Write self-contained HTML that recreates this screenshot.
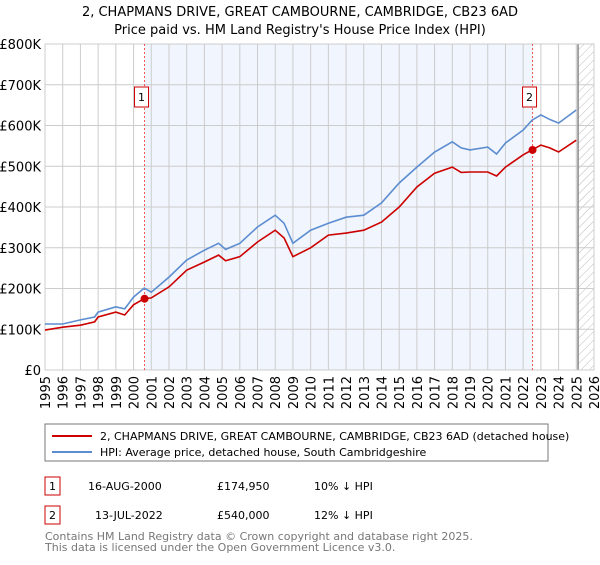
<!DOCTYPE html>
<html><head><meta charset="utf-8"><style>
body{margin:0;background:#fff;font-family:"Liberation Sans","DejaVu Sans",sans-serif;}
svg text{font-family:"DejaVu Sans","Liberation Sans",sans-serif;}
</style></head><body>
<svg id="c" width="600" height="560" xmlns="http://www.w3.org/2000/svg">
<defs><pattern id="hatch" width="6" height="6" patternUnits="userSpaceOnUse" patternTransform="rotate(45)"><line x1="0" y1="0" x2="0" y2="6" stroke="#bbb" stroke-width="1"/></pattern></defs>
<text x="300" y="16" text-anchor="middle" font-size="13">2, CHAPMANS DRIVE, GREAT CAMBOURNE, CAMBRIDGE, CB23 6AD</text>
<text x="300" y="34" text-anchor="middle" font-size="13">Price paid vs. HM Land Registry's House Price Index (HPI)</text>
<g id="plot"></g>
<rect x="45" y="424" width="503" height="37" fill="#fff" stroke="#777"/>
<line x1="52" y1="436" x2="92" y2="436" stroke="#cc0000" stroke-width="2"/>
<text x="100" y="440" font-size="11">2, CHAPMANS DRIVE, GREAT CAMBOURNE, CAMBRIDGE, CB23 6AD (detached house)</text>
<line x1="52" y1="452" x2="92" y2="452" stroke="#5b8dd0" stroke-width="2"/>
<text x="100" y="456" font-size="11">HPI: Average price, detached house, South Cambridgeshire</text>
<g font-size="11">
<rect x="45" y="477" width="15" height="18" fill="#fff" stroke="#cc0000"/><text x="52.5" y="490" text-anchor="middle">1</text>
<text x="88" y="490">16-AUG-2000</text><text x="217" y="490">£174,950</text><text x="314" y="490">10% ↓ HPI</text>
<rect x="45" y="506" width="15" height="18" fill="#fff" stroke="#cc0000"/><text x="52.5" y="519" text-anchor="middle">2</text>
<text x="95" y="519">13-JUL-2022</text><text x="217" y="519">£540,000</text><text x="314" y="519">12% ↓ HPI</text>
</g>
<text x="45" y="540" font-size="11" fill="#777">Contains HM Land Registry data © Crown copyright and database right 2025.</text>
<text x="45" y="551" font-size="11" fill="#777">This data is licensed under the Open Government Licence v3.0.</text>
</svg>
<script>
const hpiYears=[1995,1996,1997,1997.8,1998,1999,1999.5,2000,2000.6,2001,2002,2003,2004,2004.8,2005.2,2006,2007,2008,2008.5,2009,2010,2011,2012,2013,2014,2015,2016,2017,2018,2018.5,2019,2020,2020.5,2021,2022,2022.5,2023,2023.5,2024,2025];
const hpiValues=[113,113,123,130,142,155,150,179,201,191,228,270,294,311,296,311,351,380,360,311,343,360,375,380,410,459,498,535,560,545,540,547,530,557,589,613,626,615,606,638];
const ppYears=[1995,1996,1997,1997.8,1998,1999,1999.5,2000,2000.6,2001,2002,2003,2004,2004.8,2005.2,2006,2007,2008,2008.5,2009,2010,2011,2012,2013,2014,2015,2016,2017,2018,2018.5,2019,2020,2020.5,2021,2022,2022.5,2023,2023.5,2024,2025];
const ppValues=[98,105,110,118,130,142,135,160,175,177,204,245,265,282,268,278,314,343,324,278,300,331,336,343,363,400,449,483,498,485,486,486,476,498,528,540,552,545,535,564];
const saleYears=[2000.62,2022.53];
const saleValues=[174.95,540];
const saleLabels=["1","2"];
const yTicks=[0,100,200,300,400,500,600,700,800];
const yTickLabels=["£0","£100K","£200K","£300K","£400K","£500K","£600K","£700K","£800K"];
const xTicks=[1995,1996,1997,1998,1999,2000,2001,2002,2003,2004,2005,2006,2007,2008,2009,2010,2011,2012,2013,2014,2015,2016,2017,2018,2019,2020,2021,2022,2023,2024,2025,2026];
const X0=45,X1=594,Y0=370,Y1=44;
const xs=y=>X0+(y-1995)/(2026-1995)*(X1-X0);
const ys=v=>Y0-v/800*(Y0-Y1);
const NS="http://www.w3.org/2000/svg";
const g=document.getElementById('plot');
function mk(t,a){const e=document.createElementNS(NS,t);for(const k in a)e.setAttribute(k,a[k]);g.appendChild(e);return e;}
let e;
e=mk('rect',{x:X0,y:Y1,width:X1-X0,height:Y0-Y1,fill:'#fff'});


e=mk('rect',{x:xs(saleYears[0]),y:Y1,width:xs(saleYears[1])-xs(saleYears[0]),height:Y0-Y1,fill:'#eef2fc',opacity:0.8});


e=mk('rect',{x:xs(2025.1),y:Y1,width:X1-xs(2025.1),height:Y0-Y1,fill:'url(#hatch)'});


yTicks.forEach((t,i)=>{
 e=mk('line',{x1:X0,x2:X1,y1:ys(t),y2:ys(t),stroke:'#ccc'});
 
 
 e=mk('text',{x:X0-4,y:ys(t)+5,'text-anchor':'end','font-size':13});
 e.textContent=yTickLabels[i];
 
 
});
xTicks.forEach(t=>{
 e=mk('line',{x1:xs(t),x2:xs(t),y1:Y1,y2:Y0,stroke:'#ccc'});
 
 
 e=mk('text',{x:0,y:0,'font-size':13,'text-anchor':'end',transform:`translate(${xs(t)+5},${Y0+6}) rotate(-90)`});
 e.textContent=t;
 
 
});
e=mk('line',{x1:xs(2025.1),x2:xs(2025.1),y1:Y1,y2:Y0,stroke:'#888','stroke-width':1.5});


e=mk('rect',{x:X0,y:Y1,width:X1-X0,height:Y0-Y1,fill:'none',stroke:'#ccc'});


saleYears.forEach((y,i)=>{
 e=mk('line',{x1:xs(y),x2:xs(y),y1:Y1,y2:Y0,stroke:'#e55','stroke-dasharray':'2,2'});
 
 
});
function path(xa,va,col,name){
 const d=xa.map((x,i)=>(i?'L':'M')+xs(x).toFixed(1)+','+ys(va[i]).toFixed(1)).join('');
 e=mk('path',{d:d,fill:'none',stroke:col,'stroke-width':1.6});
 
 
}
path(hpiYears,hpiValues,'#5b8dd0','hpi-line');
path(ppYears,ppValues,'#cc0000','price-paid-line');
saleYears.forEach((y,i)=>{
 e=mk('circle',{cx:xs(y),cy:ys(saleValues[i]),r:4,fill:'#cc0000'});
 
 
 const bx=xs(y)-11-(i?0:0);
 e=mk('rect',{x:xs(y)-10,y:87,width:14,height:20,fill:'#fff',stroke:'#cc0000'});
 
 
 e=mk('text',{x:xs(y)-3,y:101,'text-anchor':'middle','font-size':11});
 e.textContent=saleLabels[i];
 
 
});
</script>
</body></html>
